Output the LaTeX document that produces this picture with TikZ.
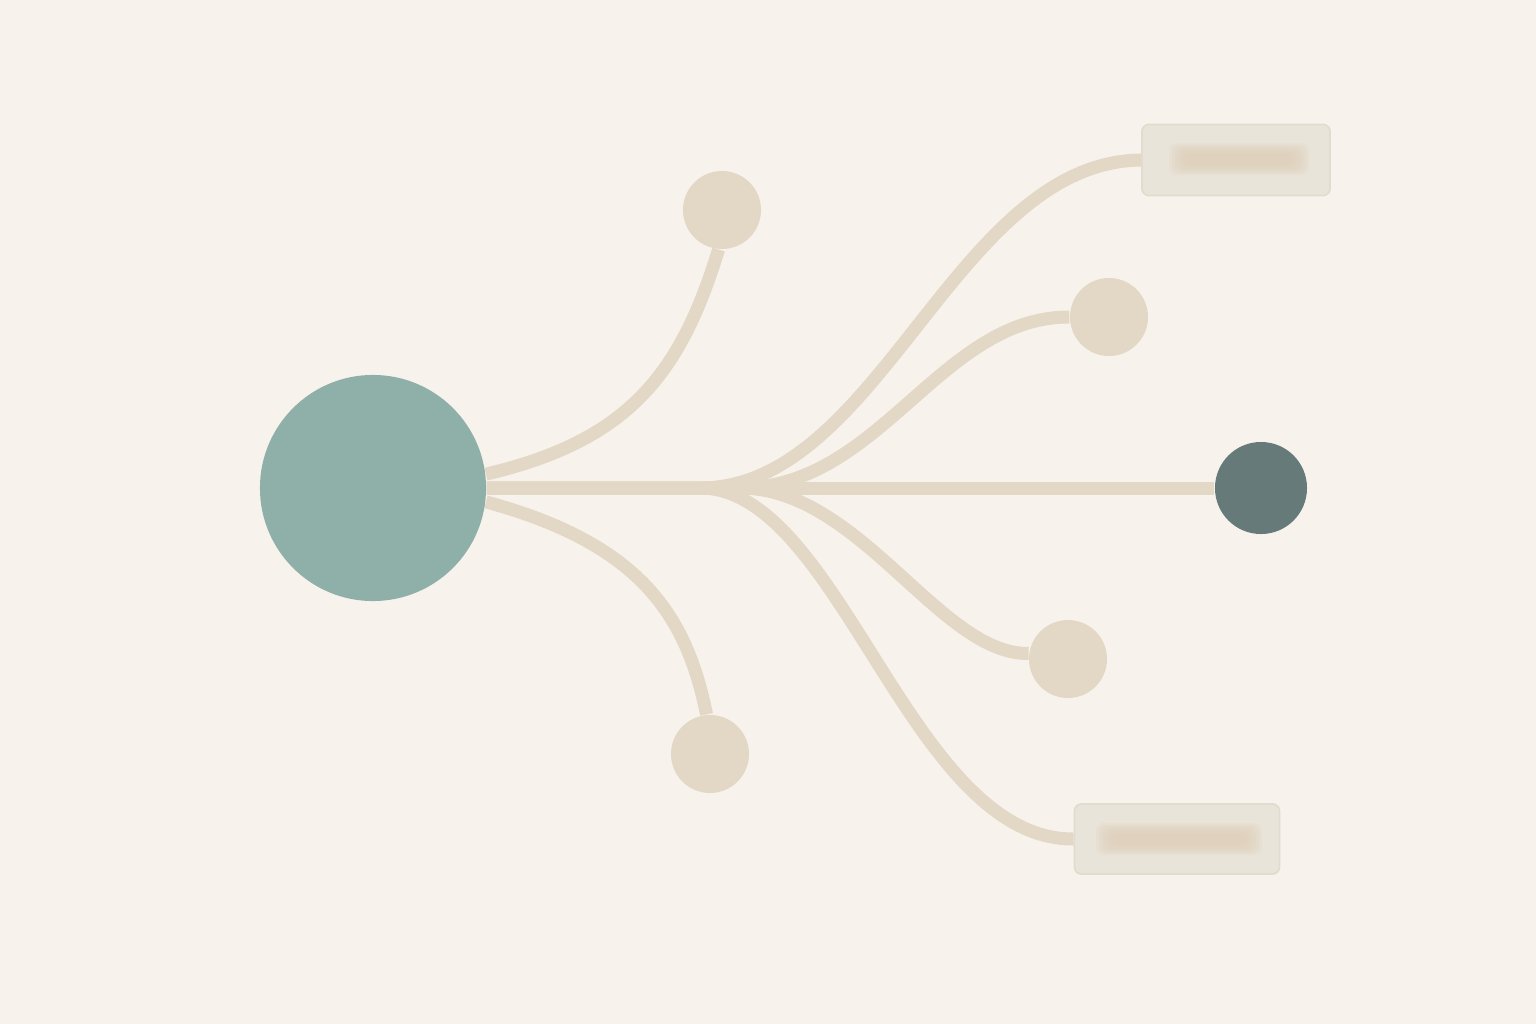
\documentclass[tikz,border=0pt]{standalone}
\usepackage{tikz}
\usepackage{xcolor}
\usetikzlibrary{backgrounds}

\definecolor{paper}{HTML}{F7F3EC}
\definecolor{hubteal}{HTML}{8FB0A8}
\definecolor{slate}{HTML}{667A79}
\definecolor{sand}{HTML}{E3D8C6}
\definecolor{card}{HTML}{E8E4D9}
\definecolor{cardline}{HTML}{E2DCCE}
\definecolor{smudge}{HTML}{DCCAB2}

\tikzset{
  dot/.style={circle, fill=sand, minimum size=0.78cm, inner sep=0},
  tag/.style={rectangle, rounded corners=0.07cm, fill=card, draw=cardline, line width=0.5pt, inner sep=0},
  wire/.style={sand, line width=0.13cm}
}

\begin{document}
\begin{tikzpicture}[x=0.01cm,y=-0.01cm]

\node[circle, fill=hubteal, minimum size=2.26cm, inner sep=0] (hub) at (373,488) {};
\node[circle, fill=slate, minimum size=0.92cm, inner sep=0] (end) at (1261,488) {};

\node[dot] (top) at (722,210) {};
\node[dot] (bottom) at (710,754) {};
\node[dot] (upper) at (1109,317) {};
\node[dot] (lower) at (1068,659) {};

\node[tag, minimum width=1.88cm, minimum height=0.71cm] (cardA) at (1236,160) {};
\node[tag, minimum width=2.05cm, minimum height=0.70cm] (cardB) at (1177,839) {};

\foreach \k in {0,...,5}
  \fill[smudge, opacity=0.16, rounded corners=0.08cm, shift={(cardA.center)}] (-52-3*\k,-7-2*\k) rectangle (58+3*\k,5+2*\k);
\foreach \k in {0,...,5}
  \fill[smudge, opacity=0.16, rounded corners=0.08cm, shift={(cardB.center)}] (-66-3*\k,-6-2*\k) rectangle (70+3*\k,6+2*\k);

\coordinate (forkA) at (700,488);
\coordinate (forkB) at (740,488);

\begin{scope}[on background layer]
\fill[paper] (0,0) rectangle (1536,1024);

\draw[wire] (hub.east) -- (end.west);
\draw[wire] (hub.7) .. controls (627,441) and (680,376) .. (top.-95);
\draw[wire] (hub.-7) .. controls (637,543) and (686,612) .. (bottom.95);

\draw[wire] (hub.east) -- (forkA) .. controls (880,488) and (955,162) .. (cardA.west);
\draw[wire] (hub.east) -- (forkB) .. controls (880,488) and (940,317) .. (upper.west);
\draw[wire] (hub.east) -- (forkB) .. controls (860,488) and (940,655) .. (lower.172);
\draw[wire] (hub.east) -- (forkA) .. controls (840,488) and (910,840) .. (cardB.west);
\end{scope}
\end{tikzpicture}
\end{document}
